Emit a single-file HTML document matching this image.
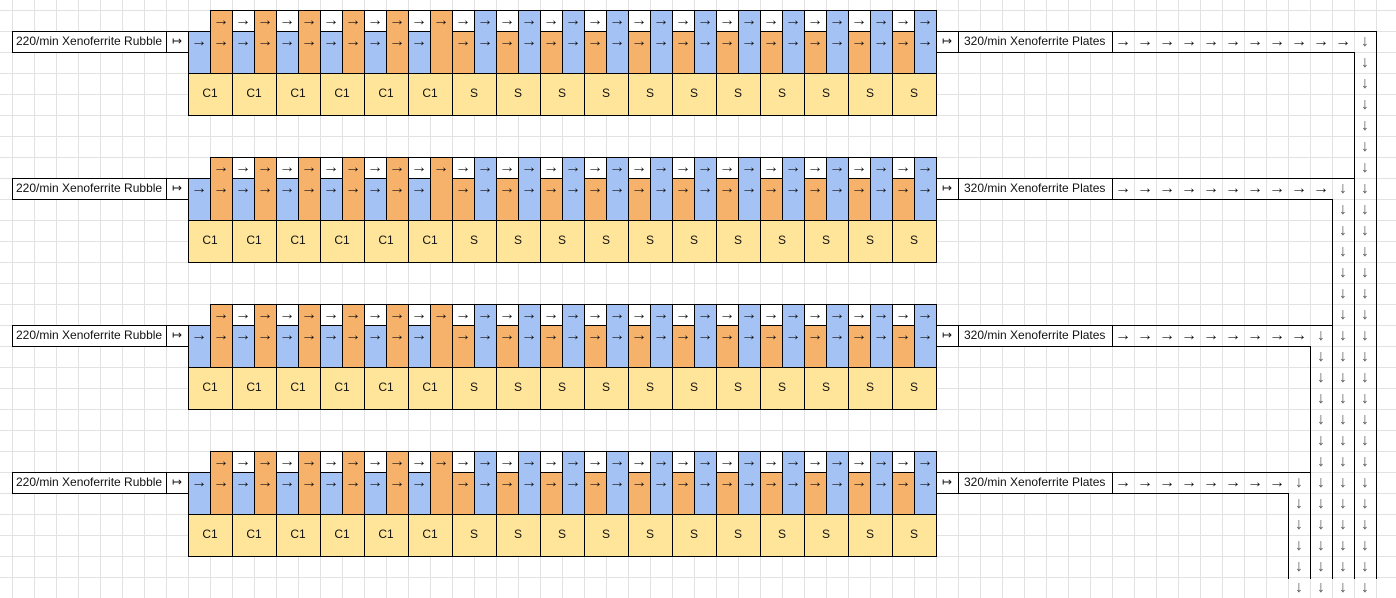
<!DOCTYPE html>
<html><head><meta charset="utf-8">
<style>
html,body{margin:0;padding:0;}
body{width:1396px;height:579px;overflow:hidden;position:relative;background-color:#fff;
background-image:linear-gradient(to right,#e2e2e2 1px,transparent 1px),linear-gradient(to bottom,#e2e2e2 1px,transparent 1px);
background-size:22px 21px;background-position:12px 10px;
font-family:"Liberation Sans",Arial,sans-serif;font-size:12px;color:#111;}
.b{position:absolute;box-sizing:border-box;border:1px solid #000;}
.t{position:absolute;text-align:center;line-height:21px;height:21px;width:22px;font-size:16px;font-family:"Liberation Sans",sans-serif;}
.l{position:absolute;line-height:21px;height:21px;font-size:12px;}
.ln{position:absolute;background:#000;}
</style></head><body>
<div id="root"></div>
<script>
var H='';
function box(x,y,w,h,bg){H+='<div class="b" style="left:'+x+'px;top:'+y+'px;width:'+(w+1)+'px;height:'+(h+1)+'px;background:'+bg+'"></div>';}
function txt(x,y,s,w,fs,col){H+='<div class="t" style="left:'+x+'px;top:'+y+'px;'+(w?'width:'+w+'px;':'')+(fs?'font-size:'+fs+'px;':'')+(col?'color:'+col+';':'')+'">'+s+'</div>';}
function line(x,y,w,h){H+='<div class="ln" style="left:'+x+'px;top:'+y+'px;width:'+w+'px;height:'+h+'px"></div>';}
var BLUE='#a4c2f4',OR='#f6b26b',YEL='#ffe599';
for(var k=0;k<4;k++){
  var oy=147*k, A=10+oy, B=31+oy, C=73+oy;
  box(12,B,154,21,'#fff');
  H+='<div class="l" style="left:16px;top:'+B+'px">220/min Xenoferrite Rubble</div>';
  box(166,B,22,21,'#fff'); txt(166,B,'&#8614;',22,12);
  for(var i=0;i<17;i++){
    var x=188+44*i, c1=i<6;
    var L=c1?BLUE:OR, R=c1?OR:BLUE;
    if(i>0){box(x,A,22,21,'#fff');txt(x,A,'&rarr;');}
    box(x,B,22,42,L); txt(x,B,'&rarr;');
    box(x+22,A,22,63,R); txt(x+22,A,'&rarr;');
    if(i!=5) txt(x+22,B,'&rarr;');
    box(x,C,44,42,YEL);
    H+='<div class="l" style="left:'+x+'px;top:'+(C+10)+'px;width:44px;text-align:center">'+(c1?'C1':'S')+'</div>';
  }
  box(936,B,22,21,'#fff'); txt(936,B,'&#8614;',22,12);
  box(958,B,154,21,'#fff');
  H+='<div class="l" style="left:964px;top:'+B+'px">320/min Xenoferrite Plates</div>';
  var lx=1354-22*k;
  line(1112,B,lx+22-1112+1,1);
  line(1112,B+21,lx-1112,1);
  line(lx,B+21,1,579-B-21);
  line(lx+22,B,1,579-B);
  for(var ax=1112;ax<lx;ax+=22) txt(ax,B,'&rarr;');
  for(var y=B;y<579;y+=21) txt(lx,y,'&darr;',0,0,'#555');
}
document.getElementById('root').innerHTML=H;
</script>
</body></html>
